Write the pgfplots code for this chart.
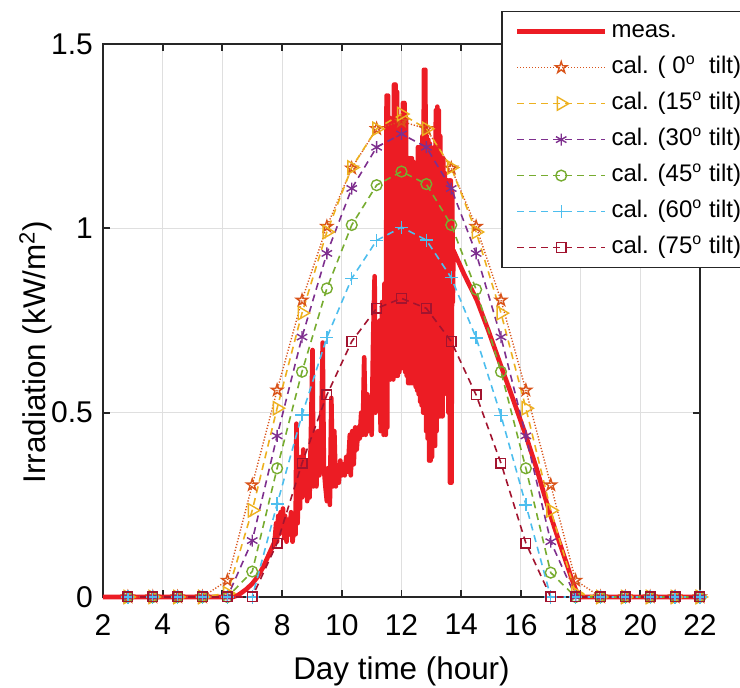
\documentclass[border=0pt]{standalone}
\usepackage{fontspec}
\setmainfont{Liberation Sans}
\usepackage{pgfplots}
\usepackage{pgfplotstable}
\pgfplotsset{compat=1.18}
\definecolor{cmeas}{RGB}{236,28,36}
\definecolor{c0}{RGB}{217,83,25}
\definecolor{c15}{RGB}{237,177,32}
\definecolor{c30}{RGB}{126,47,142}
\definecolor{c45}{RGB}{119,172,48}
\definecolor{c60}{RGB}{77,190,238}
\definecolor{c75}{RGB}{162,20,47}
\definecolor{cgrid}{RGB}{223,223,223}
\pgfdeclareplotmark{pentagram}{%
  \pgfpathmoveto{\pgfpointpolar{90}{\pgfplotmarksize}}%
  \pgfpathlineto{\pgfpointpolar{126}{0.382\pgfplotmarksize}}%
  \pgfpathlineto{\pgfpointpolar{162}{\pgfplotmarksize}}%
  \pgfpathlineto{\pgfpointpolar{198}{0.382\pgfplotmarksize}}%
  \pgfpathlineto{\pgfpointpolar{234}{\pgfplotmarksize}}%
  \pgfpathlineto{\pgfpointpolar{270}{0.382\pgfplotmarksize}}%
  \pgfpathlineto{\pgfpointpolar{306}{\pgfplotmarksize}}%
  \pgfpathlineto{\pgfpointpolar{342}{0.382\pgfplotmarksize}}%
  \pgfpathlineto{\pgfpointpolar{18}{\pgfplotmarksize}}%
  \pgfpathlineto{\pgfpointpolar{54}{0.382\pgfplotmarksize}}%
  \pgfpathclose\pgfusepathqstroke}

\pgfplotstableread{
x      t0    t15   t30   t45   t60   t75
2.833  0     0     0     0     0     0
3.667  0     0     0     0     0     0
4.5    0     0     0     0     0     0
5.333  0     0     0     0     0     0
6.167  0.045 0.01  0     0     0     0
7.0    0.304 0.235 0.153 0.069 0     0
7.833  0.561 0.512 0.437 0.349 0.252 0.146
8.667  0.805 0.77  0.705 0.611 0.494 0.363
9.5    1.005 0.99  0.932 0.837 0.704 0.548
10.333 1.163 1.165 1.108 1.009 0.864 0.693
11.167 1.27  1.27  1.22  1.117 0.967 0.783
12.0   1.29  1.31  1.256 1.154 1.003 0.81
12.833 1.27  1.27  1.22  1.12  0.968 0.783
13.667 1.163 1.165 1.108 1.009 0.866 0.693
14.5   1.005 0.99  0.932 0.834 0.703 0.548
15.333 0.805 0.77  0.705 0.611 0.492 0.363
16.167 0.561 0.512 0.437 0.349 0.25  0.146
17.0   0.304 0.235 0.15  0.066 0     0
17.833 0.045 0.01  0     0     0     0
18.667 0     0     0     0     0     0
19.5   0     0     0     0     0     0
20.333 0     0     0     0     0     0
21.167 0     0     0     0     0     0
22.0   0     0     0     0     0     0
}\calc

\begin{document}
\begin{tikzpicture}
\begin{axis}[
  name=ax,
  scale only axis,
  width=298.5pt, height=276.5pt,
  xmin=2, xmax=22, ymin=0, ymax=1.5,
  clip=false,
  xtick={2,4,...,22},
  ytick={0,0.5,1,1.5},
  yticklabels={0,0.5,1,1.5},
  tick align=inside,
  major tick length=3.5pt,
  grid=major,
  major grid style={cgrid, line width=0.5pt},
  axis line style={black!85, line width=0.9pt},
  tick style={black!85, line width=0.9pt},
  /pgf/number format/assume math mode=true,
  ticklabel style={font=\fontsize{15}{18}\selectfont},
  xticklabel style={yshift=-5pt},
  yticklabel style={xshift=-1.5pt},
  xlabel={Day time (hour)},
  ylabel={Irradiation (kW/m\textsuperscript{2})},
  label style={font=\fontsize{15.7}{19}\selectfont},
  xlabel style={at={(axis description cs:0.5,-0.0951)}, anchor=north},
  ylabel style={at={(axis description cs:-0.0742,0.443)}, anchor=south},
  legend cell align=left,
  legend style={at={(0.6667,1.0602)}, anchor=north west,
    font=\fontsize{12}{14}\selectfont,
    draw=black!85, line width=0.9pt,
    inner xsep=6.5pt, inner ysep=2pt,
    row sep=2pt,
    nodes={inner sep=2pt, text height=9pt, text depth=3pt}},
  legend image code/.code={%
    \draw[mark repeat=2,mark phase=2,#1] plot coordinates {(0pt,0pt) (22pt,0pt) (44pt,0pt)};},
  calc/.style={line width=0.8pt, dash pattern=on 3.5pt off 2.5pt},
]
\addplot[cmeas, draw=cmeas, line width=2.3pt, line join=round] coordinates {
(2,0) (6.35,0) (6.5,0.004) (6.6,0.009) (6.8,0.021) (7.0,0.036) (7.2,0.057) (7.37,0.082) (7.5,0.105) (7.65,0.132) (7.75,0.15)
(7.8,0.2) (7.83,0.15) (7.87,0.22) (7.9,0.17) (7.95,0.23) (8.0,0.18) (8.03,0.24) (8.07,0.16) (8.1,0.22) (8.15,0.15) (8.2,0.21) (8.25,0.17) (8.3,0.23) (8.35,0.15) (8.4,0.19) (8.45,0.17)
(8.48,0.47) (8.52,0.2) (8.55,0.34) (8.6,0.24) (8.63,0.38) (8.67,0.27) (8.71,0.40) (8.75,0.3) (8.8,0.36) (8.84,0.26) (8.88,0.33) (8.92,0.27)
(8.98,0.5) (9.02,0.67) (9.05,0.3) (9.1,0.42) (9.15,0.3) (9.2,0.45) (9.25,0.33)
(9.3,0.4) (9.36,0.69) (9.4,0.35) (9.45,0.3) (9.5,0.26) (9.55,0.35) (9.6,0.25)
(9.65,0.54) (9.7,0.3) (9.75,0.45) (9.8,0.3) (9.85,0.35) (9.9,0.31) (9.95,0.37) (10.0,0.33) (10.05,0.36) (10.1,0.33) (10.15,0.38)
(10.2,0.34) (10.27,0.44) (10.3,0.33) (10.35,0.45) (10.4,0.36) (10.45,0.46) (10.5,0.4) (10.55,0.46) (10.6,0.43)
(10.65,0.5) (10.7,0.44) (10.75,0.65) (10.8,0.44) (10.85,0.55) (10.9,0.45) (10.95,0.53) (11.0,0.44)
(11.05,0.7) (11.1,0.87) (11.13,0.5) (11.18,0.62) (11.22,0.51) (11.27,0.75) (11.3,0.45) (11.35,0.8) (11.4,0.44) (11.43,0.85)
(11.45,0.85)(11.475,0.44)(11.5,1.36)(11.525,0.46)(11.55,1.36)(11.575,0.59)(11.6,1.30)(11.625,0.59)(11.65,1.27)(11.675,0.6)
(11.7,1.25)(11.725,0.59)(11.75,1.39)(11.775,0.6)(11.8,1.39)(11.825,0.6)(11.85,1.37)(11.875,0.6)(11.9,1.30)(11.925,0.61)
(11.95,1.28)(11.975,0.62)(12.0,1.10)(12.025,0.63)(12.05,1.34)(12.075,0.62)(12.1,1.34)(12.125,0.61)(12.15,1.30)(12.175,0.6)
(12.2,1.19)(12.225,0.58)(12.25,1.19)(12.275,0.58)(12.3,1.19)(12.325,0.58)(12.35,1.19)(12.375,0.58)(12.4,1.18)(12.425,0.58)
(12.45,1.15)(12.475,0.57)(12.5,1.0)(12.525,0.56)(12.55,1.22)(12.575,0.55)(12.6,1.22)(12.625,0.53)(12.65,1.21)(12.675,0.52)
(12.7,1.25)(12.725,0.5)(12.75,1.43)(12.775,0.5)(12.8,1.43)(12.825,0.45)(12.85,1.25)(12.875,0.43)(12.9,1.24)(12.925,0.37)
(12.95,1.23)(12.975,0.37)(13.0,1.21)(13.025,0.38)(13.05,1.21)(13.075,0.41)(13.1,1.22)(13.125,0.41)(13.15,1.32)(13.175,0.45)
(13.2,1.33)(13.225,0.49)(13.25,1.32)(13.275,0.49)(13.3,1.25)(13.325,0.49)(13.35,1.19)(13.375,0.49)(13.4,1.19)(13.425,0.55)
(13.45,1.15)(13.475,0.58)(13.5,1.13)(13.525,0.58)(13.55,1.13)(13.575,0.5)(13.6,1.13)(13.625,0.31)(13.65,1.13)(13.675,0.31)
(13.7,1.10)(13.72,0.8)
(13.74,0.94) (14.1,0.875) (14.52,0.806) (14.9,0.725) (15.3,0.634) (15.7,0.545) (16.14,0.444) (16.5,0.355) (16.97,0.227) (17.2,0.17) (17.53,0.091) (17.7,0.05) (17.84,0.019) (17.93,0.004) (18.0,0) (22,0)
};
\addlegendentry{meas.}
\addplot[c0, draw=c0, line width=0.7pt, dash pattern=on 0.6pt off 0.9pt, mark=pentagram, mark size=3pt, mark options={solid}] table[x=x,y=t0]{\calc};
\addlegendentry{cal. (\ 0\textsuperscript{o}\ \ tilt)}
\addplot[c15, draw=c15, calc, mark=triangle, mark size=3.8pt, mark options={solid, line width=0.7pt, rotate=-90}] table[x=x,y=t15]{\calc};
\addlegendentry{cal. (15\textsuperscript{o} tilt)}
\addplot[c30, draw=c30, calc, mark=asterisk, mark size=3pt, mark options={solid, line width=0.7pt}] table[x=x,y=t30]{\calc};
\addlegendentry{cal. (30\textsuperscript{o} tilt)}
\addplot[c45, draw=c45, calc, mark=o, mark size=2.7pt, mark options={solid, line width=0.7pt}] table[x=x,y=t45]{\calc};
\addlegendentry{cal. (45\textsuperscript{o} tilt)}
\addplot[c60, draw=c60, calc, mark=+, mark size=3.3pt, mark options={solid, line width=0.7pt}] table[x=x,y=t60]{\calc};
\addlegendentry{cal. (60\textsuperscript{o} tilt)}
\addplot[c75, draw=c75, calc, mark=square, mark size=2.4pt, mark options={solid, line width=0.7pt}] table[x=x,y=t75]{\calc};
\addlegendentry{cal. (75\textsuperscript{o} tilt)}
\end{axis}
\pgfresetboundingbox
\path ([xshift=-51.5pt,yshift=-45.5pt]ax.south west) rectangle ([xshift=20pt,yshift=22pt]ax.north east);
\end{tikzpicture}
\end{document}
